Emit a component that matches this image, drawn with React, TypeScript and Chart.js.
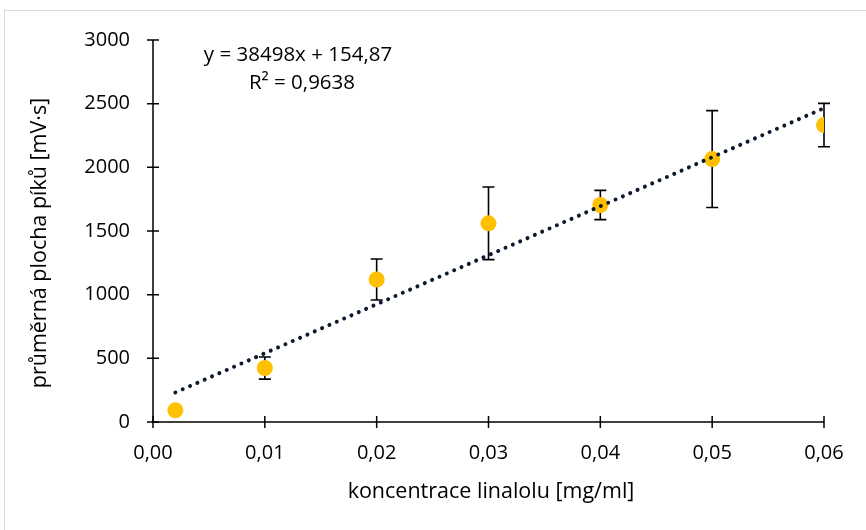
import React, { useEffect, useRef } from "react";
import { Chart, registerables } from "chart.js";

Chart.register(...registerables);

const concentrations = [0.002, 0.01, 0.02, 0.03, 0.04, 0.05, 0.06];
const meanAreas = [92, 424, 1119, 1560, 1704, 2065, 2332];
const errors = [0, 87, 161, 285, 115, 380, 170];
const xTicks = [0, 0.01, 0.02, 0.03, 0.04, 0.05, 0.06];
const yTicks = [0, 500, 1000, 1500, 2000, 2500, 3000];
const slope = 38498;
const intercept = 154.87;
const equationLines = ["y = 38498x + 154,87", "R² = 0,9638"];
const xTitle = "koncentrace linalolu [mg/ml]";
const yTitle = "průměrná plocha píků [mV·s]";

const FONT = "'Open Sans', sans-serif";

const decor = {
  id: "decor",
  beforeDraw(chart: any) {
    const ctx = chart.ctx;
    ctx.save();
    ctx.fillStyle = "#ffffff";
    ctx.fillRect(0, 0, chart.width, chart.height);
    ctx.strokeStyle = "#d9d9d9";
    ctx.lineWidth = 1;
    ctx.strokeRect(4.5, 10.5, 1000, 1000);
    ctx.restore();
  },
  beforeDatasetsDraw(chart: any) {
    const ctx = chart.ctx;
    const xs = chart.scales.x;
    const ys = chart.scales.y;
    ctx.save();
    ctx.strokeStyle = "#000000";
    ctx.lineWidth = 1.5;
    const x0 = xs.getPixelForValue(0);
    const y0 = ys.getPixelForValue(0);
    ctx.beginPath();
    ctx.moveTo(x0, ys.getPixelForValue(3000));
    ctx.lineTo(x0, y0);
    ctx.lineTo(xs.getPixelForValue(0.06), y0);
    ctx.stroke();
    ctx.beginPath();
    yTicks.forEach((v) => {
      const y = ys.getPixelForValue(v);
      ctx.moveTo(x0 - 6, y);
      ctx.lineTo(x0 + 6, y);
    });
    xTicks.forEach((v) => {
      const x = xs.getPixelForValue(v);
      ctx.moveTo(x, y0 - 6);
      ctx.lineTo(x, y0 + 6);
    });
    ctx.stroke();
    ctx.lineWidth = 1.6;
    ctx.beginPath();
    concentrations.forEach((c, i) => {
      const e = errors[i];
      if (!e) return;
      const x = xs.getPixelForValue(c);
      const yt = ys.getPixelForValue(meanAreas[i] + e);
      const yb = ys.getPixelForValue(meanAreas[i] - e);
      ctx.moveTo(x, yt);
      ctx.lineTo(x, yb);
      ctx.moveTo(x - 6, yt);
      ctx.lineTo(x + 6, yt);
      ctx.moveTo(x - 6, yb);
      ctx.lineTo(x + 6, yb);
    });
    ctx.stroke();
    ctx.restore();
  },
  afterDraw(chart: any) {
    const ctx = chart.ctx;
    ctx.save();
    ctx.fillStyle = "#000000";
    ctx.textAlign = "center";
    ctx.textBaseline = "middle";
    ctx.font = `20.5px ${FONT}`;
    ctx.fillText(equationLines[0], 298, 55);
    ctx.fillText(equationLines[1], 302, 83);
    ctx.font = `21.5px ${FONT}`;
    ctx.fillText(xTitle, 491, 492);
    ctx.translate(40, 243);
    ctx.rotate(-Math.PI / 2);
    ctx.fillText(yTitle, 0, 0);
    ctx.restore();
  },
};

export default function App() {
  const ref = useRef<HTMLCanvasElement>(null);
  useEffect(() => {
    if (!ref.current) return;
    const chart = new Chart(ref.current, {
      type: "scatter",
      data: {
        datasets: [
          {
            type: "line",
            label: "trend",
            data: [
              { x: concentrations[0], y: slope * concentrations[0] + intercept },
              {
                x: concentrations[concentrations.length - 1],
                y: slope * concentrations[concentrations.length - 1] + intercept,
              },
            ],
            borderColor: "#0b1a2e",
            borderWidth: 4,
            borderDash: [0.01, 8],
            borderCapStyle: "round",
            pointRadius: 0,
            fill: false,
            order: 0,
          } as any,
          {
            label: "data",
            data: concentrations.map((c, i) => ({ x: c, y: meanAreas[i] })),
            backgroundColor: "#FFC000",
            borderColor: "#FFC000",
            pointRadius: 8,
            pointBorderWidth: 0,
            order: 1,
          },
        ],
      },
      options: {
        responsive: false,
        animation: false,
        layout: { padding: { top: 40, right: 42, left: 0, bottom: 0 } },
        plugins: {
          legend: { display: false },
          tooltip: { enabled: false },
        },
        scales: {
          x: {
            type: "linear",
            min: 0,
            max: 0.06,
            afterFit(scale: any) {
              scale.height = 108;
            },
            afterBuildTicks(scale: any) {
              scale.ticks = xTicks.map((v) => ({ value: v }));
            },
            grid: { display: false, drawTicks: false },
            border: { display: false },
            ticks: {
              padding: 19,
              color: "#000000",
              font: { family: FONT, size: 20 },
              callback: (v: any) => Number(v).toFixed(2).replace(".", ","),
            },
          },
          y: {
            type: "linear",
            min: 0,
            max: 3000,
            afterFit(scale: any) {
              scale.width = 153;
            },
            afterBuildTicks(scale: any) {
              scale.ticks = yTicks.map((v) => ({ value: v }));
            },
            grid: { display: false, drawTicks: false },
            border: { display: false },
            ticks: {
              padding: 23,
              color: "#000000",
              font: { family: FONT, size: 20 },
              callback: (v: any) => String(v),
            },
          },
        },
      },
      plugins: [decor],
    });
    return () => chart.destroy();
  }, []);
  return (
    <div style={{ position: "fixed", left: 0, top: 0, width: 866, height: 530 }}>
      <canvas ref={ref} width={866} height={530} style={{ display: "block" }} />
    </div>
  );
}
